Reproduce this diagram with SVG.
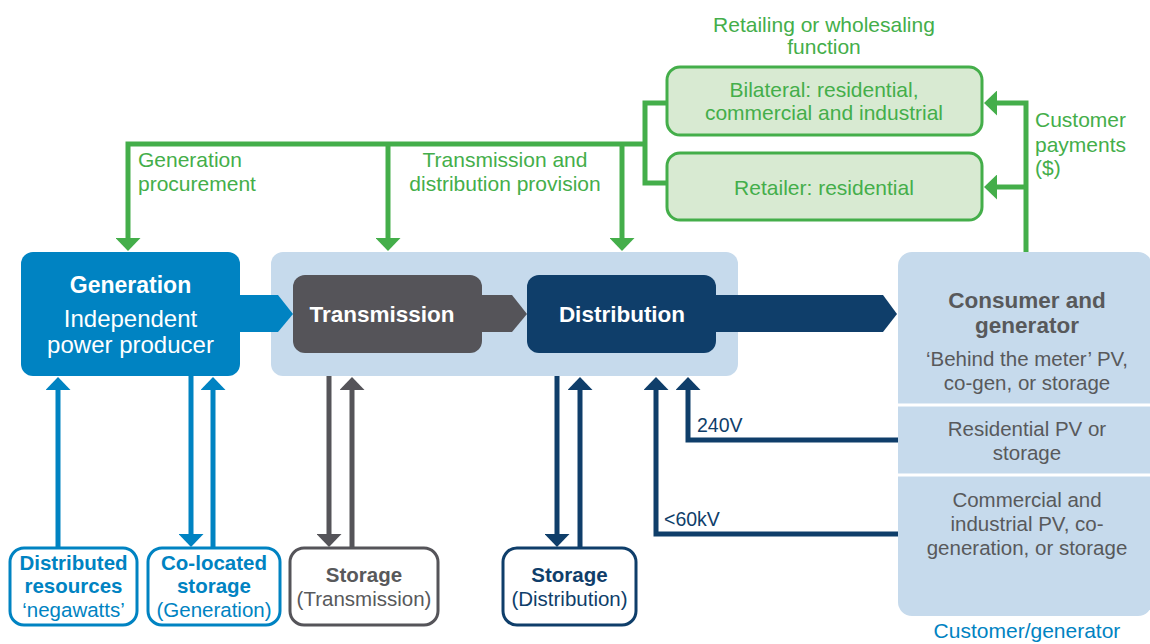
<svg xmlns="http://www.w3.org/2000/svg" width="1150" height="644" viewBox="0 0 1150 644">
<style>
text{font-family:"Liberation Sans",Arial,sans-serif;font-size:20.5px}
.b{font-weight:bold}
.m{text-anchor:middle}
.w{fill:#fff}
.g{fill:#44AE4A;font-size:21px}
.bl{fill:#0083C2}
.gy{fill:#58595B}
.nv{fill:#0F3E6A}
.ln{fill:none;stroke-width:5;stroke-linejoin:miter}
.lg{stroke:#44AE4A}
.lb{stroke:#0083C2}
.lgy{stroke:#555459}
.lnv{stroke:#0F3E6A}
.gbox{fill:#D8EAD2;stroke:#44AE4A;stroke-width:3}
.sbox{fill:#fff;stroke-width:3}
</style>
<defs>
<marker id="ag" markerUnits="userSpaceOnUse" markerWidth="14" markerHeight="25" refX="1" refY="12.5" orient="auto"><path d="M0,0 L13,12.5 L0,25 Z" fill="#44AE4A"/></marker>
<marker id="ab" markerUnits="userSpaceOnUse" markerWidth="14" markerHeight="25" refX="1" refY="12.5" orient="auto"><path d="M0,0 L13,12.5 L0,25 Z" fill="#0083C2"/></marker>
<marker id="agy" markerUnits="userSpaceOnUse" markerWidth="14" markerHeight="25" refX="1" refY="12.5" orient="auto"><path d="M0,0 L13,12.5 L0,25 Z" fill="#555459"/></marker>
<marker id="anv" markerUnits="userSpaceOnUse" markerWidth="14" markerHeight="25" refX="1" refY="12.5" orient="auto"><path d="M0,0 L13,12.5 L0,25 Z" fill="#0F3E6A"/></marker>
</defs>

<g id="retail-label">
<text class="g m" x="824" y="32">Retailing or wholesaling</text>
<text class="g m" x="824" y="54">function</text>
</g>
<g id="bilateral">
<rect class="gbox" x="667" y="67" width="315" height="68" rx="13"/>
<text class="g m" x="824" y="97">Bilateral: residential,</text>
<text class="g m" x="824" y="120">commercial and industrial</text>
</g>
<g id="retailer">
<rect class="gbox" x="667" y="153" width="315" height="67" rx="13"/>
<text class="g m" x="824" y="195">Retailer: residential</text>
</g>

<g id="network-container">
<rect x="271" y="252" width="467" height="124" rx="12" fill="#C6DAEC"/>
</g>

<g id="connectors">
<path class="ln lg" d="M667,103 H645 V183 H667"/>
<path class="ln lg" d="M645,144 H128 V239" marker-end="url(#ag)"/>
<path class="ln lg" d="M388,144 V239" marker-end="url(#ag)"/>
<path class="ln lg" d="M622,144 V239" marker-end="url(#ag)"/>
<path class="ln lg" d="M1026,252 V103 H996" marker-end="url(#ag)"/>
<path class="ln lg" d="M1026,187 H996" marker-end="url(#ag)"/>
<path class="ln lb" d="M58,548 V389" marker-end="url(#ab)"/>
<path class="ln lb" d="M191,376 V535" marker-end="url(#ab)"/>
<path class="ln lb" d="M213,548 V389" marker-end="url(#ab)"/>
<path class="ln lgy" d="M329,376 V535" marker-end="url(#agy)"/>
<path class="ln lgy" d="M352,548 V389" marker-end="url(#agy)"/>
<path class="ln lnv" d="M557,376 V535" marker-end="url(#anv)"/>
<path class="ln lnv" d="M580,548 V389" marker-end="url(#anv)"/>
<path class="ln lnv" d="M898,440 H688 V389" marker-end="url(#anv)"/>
<path class="ln lnv" d="M898,534 H656 V389" marker-end="url(#anv)"/>
<polygon points="236,295 278,295 293,314 278,332 236,332" fill="#0083C2"/>
<polygon points="478,295 512,295 527,314 512,332 478,332" fill="#555459"/>
<polygon points="712,295 883,295 897,314 883,332 712,332" fill="#0F3E6A"/>
<text class="g" x="138" y="167">Generation</text>
<text class="g" x="138" y="191">procurement</text>
<text class="g m" x="505" y="167">Transmission and</text>
<text class="g m" x="505" y="191">distribution provision</text>
<text class="g" x="1035" y="127">Customer</text>
<text class="g" x="1035" y="152">payments</text>
<text class="g" x="1035" y="175">($)</text>
<text class="nv" x="697" y="432" style="font-size:19.5px">240V</text>
<text class="nv" x="664" y="526" style="font-size:19.5px">&lt;60kV</text>
</g>

<g id="generation">
<rect x="21" y="252" width="219" height="124" rx="12" fill="#0083C2"/>
<text class="w b m" x="130.5" y="293" style="font-size:23px">Generation</text>
<text class="w m" x="130.5" y="327" style="font-size:24px">Independent</text>
<text class="w m" x="130.5" y="353" style="font-size:24px">power producer</text>
</g>
<g id="transmission">
<rect x="293" y="275" width="189" height="78" rx="12" fill="#555459"/>
<text class="w b m" x="382" y="322" style="font-size:22.5px">Transmission</text>
</g>
<g id="distribution">
<rect x="527" y="275" width="189" height="78" rx="12" fill="#0F3E6A"/>
<text class="w b m" x="622" y="322" style="font-size:22.5px">Distribution</text>
</g>

<g id="consumer">
<rect x="898" y="252" width="254" height="364" rx="14" fill="#C6DAEC"/>
<line x1="898" y1="405" x2="1152" y2="405" stroke="#fff" stroke-width="3"/>
<line x1="898" y1="475" x2="1152" y2="475" stroke="#fff" stroke-width="3"/>
<text class="gy b m" x="1027" y="308" style="font-size:22.5px">Consumer and</text>
<text class="gy b m" x="1027" y="333" style="font-size:22.5px">generator</text>
<text class="gy m" x="1027" y="366">‘Behind the meter’ PV,</text>
<text class="gy m" x="1027" y="390">co-gen, or storage</text>
<text class="gy m" x="1027" y="436">Residential PV or</text>
<text class="gy m" x="1027" y="460">storage</text>
<text class="gy m" x="1027" y="507">Commercial and</text>
<text class="gy m" x="1027" y="531">industrial PV, co-</text>
<text class="gy m" x="1027" y="555">generation, or storage</text>
<text class="bl m" x="1027" y="638" style="font-size:21px">Customer/generator</text>
</g>

<g id="distributed-resources">
<rect class="sbox" x="10" y="548" width="127" height="77" rx="14" stroke="#0083C2"/>
<text class="bl b m" x="73.5" y="570">Distributed</text>
<text class="bl b m" x="73.5" y="593">resources</text>
<text class="bl m" x="73.5" y="617">‘negawatts’</text>
</g>
<g id="co-located-storage">
<rect class="sbox" x="148" y="548" width="132" height="77" rx="14" stroke="#0083C2"/>
<text class="bl b m" x="214" y="570">Co-located</text>
<text class="bl b m" x="214" y="593">storage</text>
<text class="bl m" x="214" y="617">(Generation)</text>
</g>
<g id="storage-transmission">
<rect class="sbox" x="290" y="548" width="148" height="77" rx="14" stroke="#555459"/>
<text class="gy b m" x="364" y="582">Storage</text>
<text class="gy m" x="364" y="606">(Transmission)</text>
</g>
<g id="storage-distribution">
<rect class="sbox" x="503" y="548" width="133" height="77" rx="14" stroke="#0F3E6A"/>
<text class="nv b m" x="569.5" y="582">Storage</text>
<text class="nv m" x="569.5" y="606">(Distribution)</text>
</g>
</svg>
